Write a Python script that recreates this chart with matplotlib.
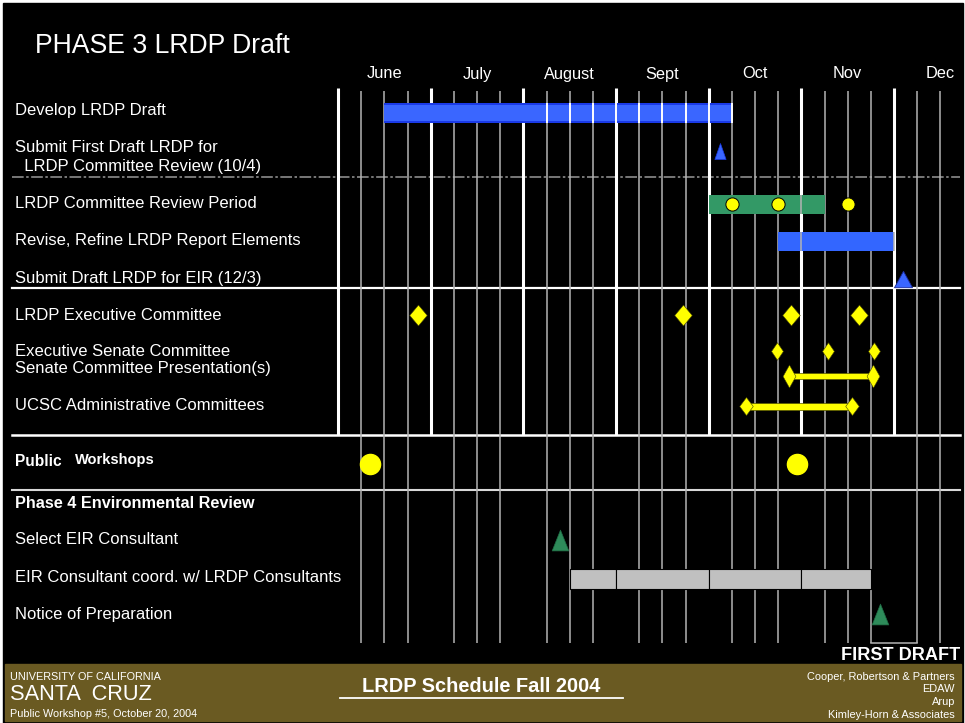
import matplotlib
matplotlib.use('Agg')
import matplotlib.pyplot as plt
from matplotlib.path import Path
from matplotlib.patches import Rectangle

plt.rcParams['font.family'] = ['Liberation Sans', 'DejaVu Sans']

# ---- data (time axis in weeks counted from 1 June 2004, 4 weeks per month column)
months = ['June', 'July', 'August', 'Sept', 'Oct', 'Nov', 'Dec']

develop_draft = (2, 17)
submit_first_draft = 16.5
review_period = (16, 21)
review_meetings = [17, 19, 22]
revise_elements = (19, 24)
submit_draft_eir = 24.4
exec_committee = [3.45, 14.9, 19.55, 22.5]
exec_senate = [18.95, 21.15, 23.15]
senate_presentation = [19.45, 23.1]
ucsc_admin = [17.6, 22.2]
public_workshops = [1.4, 19.8]
select_eir = 9.6
eir_coord = (10, 23)
notice_prep = 23.4

labels = ['Develop LRDP Draft',
          'Submit First Draft LRDP for',
          '  LRDP Committee Review (10/4)',
          'LRDP Committee Review Period',
          'Revise, Refine LRDP Report Elements',
          'Submit Draft LRDP for EIR (12/3)',
          'LRDP Executive Committee',
          'Executive Senate Committee',
          'Senate Committee Presentation(s)',
          'UCSC Administrative Committees',
          'Select EIR Consultant',
          'EIR Consultant coord. w/ LRDP Consultants',
          'Notice of Preparation']

# ---- layout (pixel-like units, y from top)
W, H = 965, 723
X0, WEEK = 338, 23.17
label_y = [111, 147, 166, 204, 241, 278, 315, 351, 369, 406, 540, 578, 614]
row = {'develop': 112, 'submit1': 151, 'review': 204, 'revise': 241, 'eir': 279,
       'exec': 315, 'senate': 351, 'pres': 376, 'ucsc': 406, 'public': 464,
       'select': 540, 'coord': 579, 'notice': 614}

BLUE = '#3A66FF'
DBLUE = '#1A3AE8'
GREEN = '#339966'
YELLOW = '#FFFF00'
OLIVE = '#6A5A22'


def wk(px):
    return (px - X0) / WEEK


def diamond(r):
    return Path([(0, 1), (r, 0), (0, -1), (-r, 0), (0, 1)],
                [Path.MOVETO, Path.LINETO, Path.LINETO, Path.LINETO, Path.CLOSEPOLY])


def triangle(r):
    return Path([(-r, -1), (0, 1), (r, -1), (-r, -1)],
                [Path.MOVETO, Path.LINETO, Path.LINETO, Path.CLOSEPOLY])


fig = plt.figure(figsize=(W / 100, H / 100), dpi=100, facecolor='white')
bg = fig.add_axes([0, 0, 1, 1])
bg.set_xlim(0, W)
bg.set_ylim(H, 0)
bg.axis('off')

bg.add_patch(Rectangle((3, 3), 960, 720, color='black', zorder=0))
bg.add_patch(Rectangle((5, 664), 956, 57, color=OLIVE, zorder=1))

# horizontal separators
bg.plot([12, 960], [177, 177], color='#8C8C8C', lw=1.2, ls=(0, (7, 1.5, 1.5, 1.5)), zorder=3)
bg.plot([12, 960], [288, 288], color='white', lw=1.6, zorder=3)
bg.plot([12, 960], [435, 435], color='white', lw=1.8, zorder=3)
bg.plot([12, 960], [490, 490], color='#D8D8D8', lw=1.5, zorder=3)

ax = fig.add_axes([0, 0, 1, 1], facecolor='none')
ax.set_xlim(wk(0), wk(W))
ax.set_ylim(H, 0)
ax.axis('off')

# grid: weekly thin lines and monthly thick lines
weeks = [w for w in range(1, 27) if w % 4 != 0]
ax.vlines(weeks, 91, 643, color='#B4B4B4', lw=1.1, zorder=1)
ax.vlines(range(0, 25, 4), 88, 435, color='white', lw=2.2, zorder=1)
ax.plot([23, 25], [643, 643], color='#B4B4B4', lw=1.1, zorder=1)

for i, m in enumerate(months):
    ax.text(4 * i + 2, 74, m, color='white', fontsize=11.8, ha='center', va='center')

# bars
ax.broken_barh([(develop_draft[0], develop_draft[1] - develop_draft[0])], (102.5, 20),
               facecolor=DBLUE, zorder=2)
ax.broken_barh([(develop_draft[0], develop_draft[1] - develop_draft[0])], (104.5, 16),
               facecolor=BLUE, zorder=2)
ax.vlines(range(9, 18), 102.5, 122.5, color='white', lw=1.4, zorder=2.5)

ax.broken_barh([(review_period[0], review_period[1] - review_period[0])], (195, 19),
               facecolor=GREEN, zorder=2)
ax.broken_barh([(revise_elements[0], revise_elements[1] - revise_elements[0])], (232, 19),
               facecolor='#3366FF', zorder=2)
ax.vlines([20, 24], 232, 251, color='#B4B4B4', lw=1.1, zorder=2.5)
ax.vlines([20], 195, 214, color='#B4B4B4', lw=1.1, zorder=2.5)

segs = []
edges = [eir_coord[0]] + [b for b in range(0, 28, 4) if eir_coord[0] < b < eir_coord[1]] + [eir_coord[1]]
for a, b in zip(edges[:-1], edges[1:]):
    segs.append((a, b - a))
ax.broken_barh(segs, (569, 20), facecolor='#C0C0C0', edgecolor='black', lw=0.8, zorder=2)

# connector bars between diamonds
ax.broken_barh([(senate_presentation[0], senate_presentation[1] - senate_presentation[0])],
               (373, 6), facecolor=YELLOW, edgecolor='#555500', lw=0.5, zorder=3)
ax.broken_barh([(ucsc_admin[0], ucsc_admin[1] - ucsc_admin[0])],
               (403, 7), facecolor=YELLOW, edgecolor='#555500', lw=0.5, zorder=3)

# milestones
ax.plot([submit_first_draft], [row['submit1']], ls='none', marker=triangle(0.7), ms=11.5,
        color=BLUE, mec=DBLUE, mew=0.5, zorder=4)
ax.plot([submit_draft_eir], [row['eir']], ls='none', marker=triangle(1.1), ms=13,
        color=BLUE, mec='#1A2A99', mew=0.6, zorder=4)
ax.plot([select_eir], [row['select']], ls='none', marker=triangle(0.8), ms=15,
        color='#2E8B5A', mec='#1F6B44', mew=0.5, zorder=4)
ax.plot([notice_prep], [row['notice']], ls='none', marker=triangle(0.8), ms=15,
        color='#2E8B5A', mec='#1F6B44', mew=0.5, zorder=4)

ax.plot(review_meetings, [row['review']] * len(review_meetings), ls='none', marker='o', ms=9.5,
        color=YELLOW, mec='black', mew=0.7, zorder=4)
ax.plot(public_workshops, [row['public']] * len(public_workshops), ls='none', marker='o', ms=14.5,
        color=YELLOW, mec=YELLOW, zorder=4)

ax.plot(exec_committee, [row['exec']] * len(exec_committee), ls='none', marker=diamond(0.84),
        ms=15, color=YELLOW, mec='#444400', mew=0.4, zorder=4)
ax.plot(exec_senate, [row['senate']] * len(exec_senate), ls='none', marker=diamond(0.68),
        ms=12.6, color=YELLOW, mec='#444400', mew=0.4, zorder=4)
ax.plot(senate_presentation, [row['pres']] * len(senate_presentation), ls='none',
        marker=diamond(0.56), ms=16.5, color=YELLOW, mec='#444400', mew=0.4, zorder=4)
ax.plot(ucsc_admin, [row['ucsc']] * len(ucsc_admin), ls='none', marker=diamond(0.75),
        ms=13, color=YELLOW, mec='#444400', mew=0.4, zorder=4)

# text
bg.text(35, 46, 'PHASE 3 LRDP Draft', color='white', fontsize=19.2, va='center', ha='left')
for lab, y in zip(labels, label_y):
    bg.text(15, y, lab, color='white', fontsize=12, va='center', ha='left')
bg.text(15, 462, 'Public', color='white', fontsize=11.2, fontweight='bold', va='center')
bg.text(75, 460, 'Workshops', color='white', fontsize=10.5, fontweight='bold', va='center')
bg.text(15, 503, 'Phase 4 Environmental Review', color='white', fontsize=11.7,
        fontweight='bold', va='center')

bg.text(960, 656, 'FIRST DRAFT', color='white', fontsize=13.1, fontweight='bold',
        ha='right', va='center', zorder=5)

bg.text(10, 677, 'UNIVERSITY OF CALIFORNIA', color='white', fontsize=7.8, va='center', zorder=5)
bg.text(10, 694, 'SANTA  CRUZ', color='white', fontsize=15.7, va='center', zorder=5)
bg.text(10, 714, 'Public Workshop #5, October 20, 2004', color='white', fontsize=7.8,
        va='center', zorder=5)
bg.text(481, 687, 'LRDP Schedule Fall 2004', color='white', fontsize=14.4, fontweight='bold',
        ha='center', va='center', zorder=5)
bg.plot([340, 623], [698, 698], color='white', lw=1.3, zorder=5)
for t, y in zip(['Cooper, Robertson & Partners', 'EDAW', 'Arup', 'Kimley-Horn & Associates'],
                [677, 689, 702, 715]):
    bg.text(955, y, t, color='white', fontsize=7.9, ha='right', va='center', zorder=5)

fig.savefig('out.png', dpi=100, facecolor='white')
